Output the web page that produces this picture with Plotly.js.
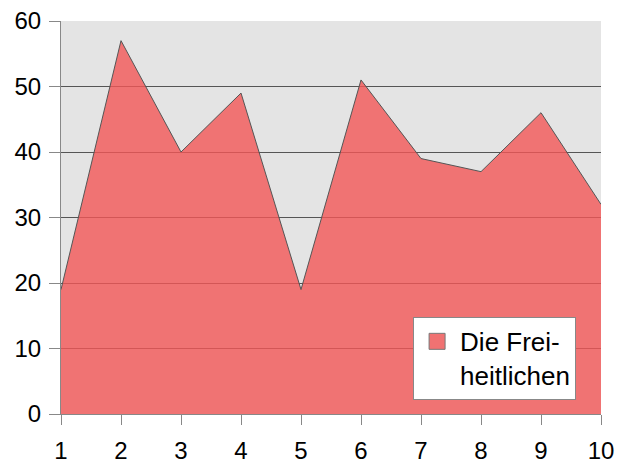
<!DOCTYPE html>
<html>
<head>
<meta charset="utf-8">
<script src="https://cdn.plot.ly/plotly-3.0.1.min.js"></script>
<style>html,body{margin:0;padding:0;background:#fff;}#chart{width:618px;height:463px;}</style>
</head>
<body>
<div id="chart"></div>
<script>
var categories = [1, 2, 3, 4, 5, 6, 7, 8, 9, 10];
var seriesName = "Die Frei-<br>heitlichen";
var seriesValues = [19, 57, 40, 49, 19, 51, 39, 37, 46, 32];
var yTicks = [0, 10, 20, 30, 40, 50, 60];

var fillColor = 'rgba(243,86,86,0.8)';

var areaTrace = {
  x: categories,
  y: seriesValues,
  name: seriesName,
  type: 'scatter',
  mode: 'lines',
  fill: 'tozeroy',
  fillcolor: fillColor,
  line: {color: '#555555', width: 1},
  showlegend: false
};

var legendTrace = {
  x: [null],
  y: [null],
  name: seriesName,
  type: 'scatter',
  mode: 'markers',
  marker: {symbol: 'square', size: 16, color: '#f07272', line: {color: '#777777', width: 1}},
  showlegend: true
};

var layout = {
  width: 618, height: 463,
  margin: {l: 61, r: 17, t: 21, b: 49},
  paper_bgcolor: '#ffffff',
  plot_bgcolor: '#e4e4e4',
  font: {family: 'Liberation Sans, Arial, sans-serif', size: 24, color: '#000'},
  showlegend: true,
  legend: {
    x: 0.652, y: 0.247, xanchor: 'left', yanchor: 'top',
    bgcolor: '#ffffff', bordercolor: '#888888', borderwidth: 1,
    font: {size: 26}, valign: 'top', itemsizing: 'trace',
    itemwidth: 36
  },
  xaxis: {
    range: [1, 10], tickvals: categories, ticktext: categories.map(String),
    showgrid: false, zeroline: false,
    showline: true, linecolor: '#888888', linewidth: 1,
    ticks: 'outside', ticklen: 10, tickcolor: '#888888',
    ticklabelstandoff: 5
  },
  yaxis: {
    range: [0, 60], tickvals: yTicks,
    showgrid: true, gridcolor: '#555555', gridwidth: 1, zeroline: false,
    showline: true, linecolor: '#888888', linewidth: 1,
    ticks: 'outside', ticklen: 11, tickcolor: '#888888',
    ticklabelstandoff: 3
  }
};

Plotly.newPlot('chart', [areaTrace, legendTrace], layout, {displayModeBar: false, staticPlot: true});
</script>
</body>
</html>
